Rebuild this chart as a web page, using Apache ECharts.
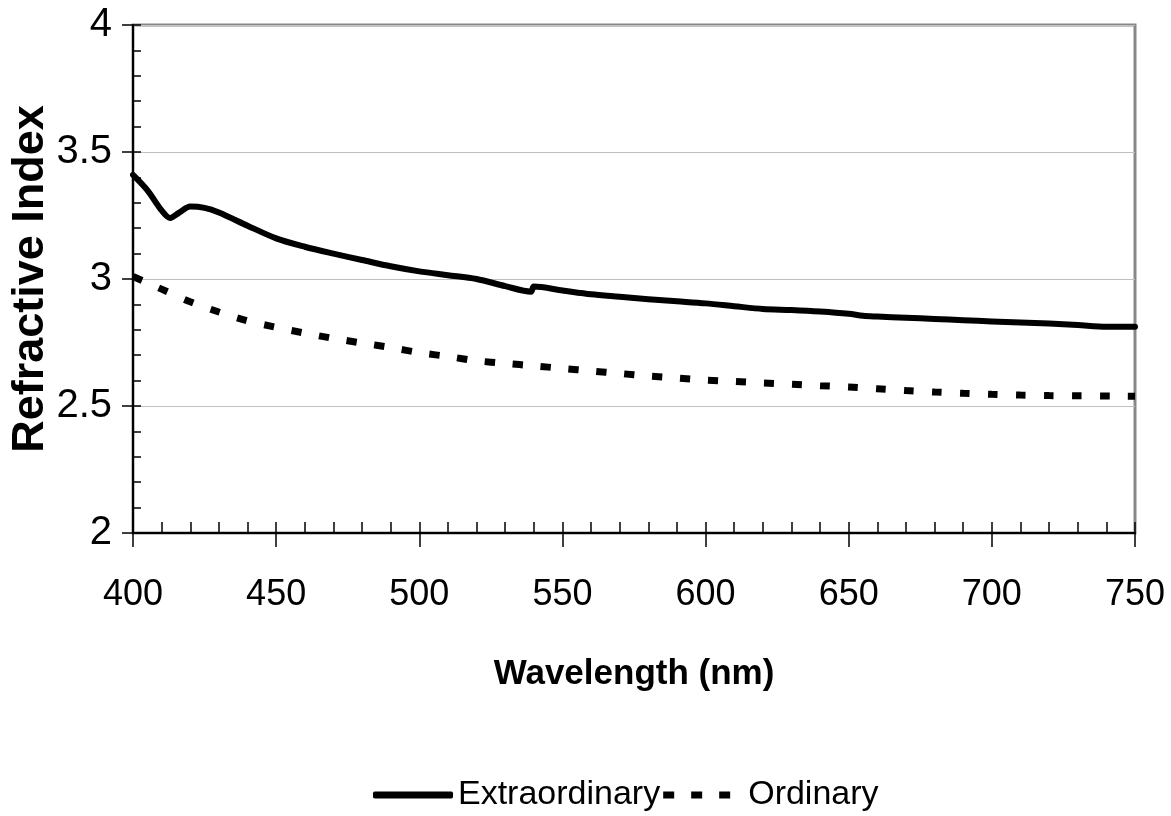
<!DOCTYPE html>
<html lang="en">
<head>
    <meta charset="UTF-8">
    <title>Refractive Index</title>
    <script src="https://cdn.jsdelivr.net/npm/echarts@6/dist/echarts.min.js"></script>
</head>
<body style="margin:0;background:#fff;">
<div id="main" style="width: 1171px;height:816px;"></div>
<script type="text/javascript">
    // wavelength (nm) and index
    var extraWl = [400, 405, 410, 413, 416, 420, 425, 430, 440, 450, 460, 470, 480, 490, 500, 510, 520, 530, 539,
        540, 550, 560, 570, 580, 590, 600, 610, 620, 630, 640, 650, 655, 660, 670, 680, 690, 700, 710, 720, 730, 740, 750];
    var extraN = [3.41, 3.35, 3.27, 3.24, 3.26, 3.285, 3.28, 3.262, 3.21, 3.16, 3.127, 3.10, 3.075, 3.05, 3.03, 3.015, 3.0, 2.972, 2.95,
        2.97, 2.955, 2.94, 2.93, 2.92, 2.912, 2.904, 2.893, 2.882, 2.878, 2.872, 2.863, 2.855, 2.852, 2.847, 2.843, 2.838, 2.833, 2.829, 2.825, 2.819, 2.812, 2.812];

    var ordWl = [400, 410, 420, 430, 440, 450, 460, 470, 480, 490, 500, 510, 520, 530, 540, 550, 560, 570, 580, 590,
        600, 610, 620, 630, 640, 650, 660, 670, 680, 690, 700, 710, 720, 730, 740, 750];
    var ordN = [3.01, 2.96, 2.91, 2.87, 2.835, 2.81, 2.787, 2.766, 2.748, 2.73, 2.71, 2.695, 2.678, 2.668, 2.658, 2.648, 2.638, 2.628, 2.618, 2.61,
        2.602, 2.597, 2.591, 2.586, 2.58, 2.575, 2.568, 2.561, 2.555, 2.55, 2.546, 2.543, 2.541, 2.54, 2.539, 2.538];

    var seriesNames = ['Extraordinary', 'Ordinary'];

    function pairs(xs, ys) {
        return xs.map(function (x, i) { return [x, ys[i]]; });
    }

    // legend marks: a thick bar and three short dashes (tiny dot at the end keeps a gap before the text)
    var solidIcon = 'roundRect';
    var dashIcon = 'path://M0,0h11v7h-11zM28,0h11v7h-11zM56,0h11v7h-11zM80,3.5h0.01v0.01h-0.01z';

    var myChart = echarts.init(document.getElementById('main'));

    var option = {
        animation: false,
        textStyle: {fontFamily: 'Liberation Sans, Arial, sans-serif', color: '#000'},
        grid: {
            left: 133, right: 36, top: 25, bottom: 283,
            outerBoundsMode: 'none',
            containLabel: false,
            show: true, borderColor: '#888', borderWidth: 3
        },
        legend: {
            data: [
                {name: seriesNames[0], icon: solidIcon},
                {name: seriesNames[1], icon: dashIcon}
            ],
            left: 368,
            top: 773,
            itemWidth: 80,
            itemHeight: 7,
            itemGap: 3,
            symbolKeepAspect: false,
            textStyle: {fontFamily: 'Liberation Sans, Arial', fontSize: 34, color: '#000'}
        },
        xAxis: [
            {
                type: 'value', position: 'bottom',
                min: 400, max: 750, interval: 50,
                name: 'Wavelength (nm)', nameLocation: 'middle', nameGap: 124,
                nameMoveOverlap: false,
                nameTextStyle: {fontSize: 35, fontWeight: 'bold', color: '#000'},
                axisLine: {lineStyle: {color: '#000', width: 2}},
                axisTick: {show: true, inside: false, length: 14, lineStyle: {color: '#000', width: 1.5}},
                axisLabel: {fontSize: 36, color: '#000', margin: 44},
                splitLine: {show: false}
            },
            {
                // inner ticks only
                type: 'value', position: 'bottom',
                min: 400, max: 750, interval: 50,
                axisLine: {show: false},
                axisTick: {show: true, inside: true, length: 11, lineStyle: {color: '#000', width: 1.5}},
                minorTick: {show: true, splitNumber: 5, length: 11, lineStyle: {color: '#000', width: 1.5}},
                axisLabel: {show: false},
                splitLine: {show: false}
            }
        ],
        yAxis: [
            {
                type: 'value', position: 'left',
                min: 2, max: 4, interval: 0.5,
                name: 'Refractive Index', nameLocation: 'middle', nameGap: 80,
                nameMoveOverlap: false,
                nameTextStyle: {fontSize: 45, fontWeight: 'bold', color: '#000'},
                axisLine: {show: true, lineStyle: {color: '#000', width: 2}},
                axisTick: {show: true, inside: false, length: 11, lineStyle: {color: '#000', width: 1.5}},
                axisLabel: {fontSize: 40, color: '#000', margin: 21},
                splitLine: {show: true, lineStyle: {color: '#c0c0c0', width: 1}}
            },
            {
                type: 'value', position: 'left',
                min: 2, max: 4, interval: 0.5,
                axisLine: {show: false},
                axisTick: {show: true, inside: true, length: 8, lineStyle: {color: '#000', width: 1.5}},
                minorTick: {show: true, splitNumber: 5, length: 8, lineStyle: {color: '#000', width: 1.5}},
                axisLabel: {show: false},
                splitLine: {show: false}
            }
        ],
        series: [
            {
                name: seriesNames[0],
                type: 'line',
                xAxisIndex: 0, yAxisIndex: 0,
                data: pairs(extraWl, extraN),
                smooth: 0.3,
                symbol: 'none',
                lineStyle: {color: '#000', width: 6, cap: 'round', join: 'round'},
                itemStyle: {color: '#000'}
            },
            {
                name: seriesNames[1],
                type: 'line',
                xAxisIndex: 0, yAxisIndex: 0,
                data: pairs(ordWl, ordN),
                smooth: 0.3,
                symbol: 'none',
                lineStyle: {color: '#000', width: 7, type: [10, 18], cap: 'butt'},
                itemStyle: {color: '#000'}
            }
        ]
    };

    myChart.setOption(option);
</script>
</body>
</html>
